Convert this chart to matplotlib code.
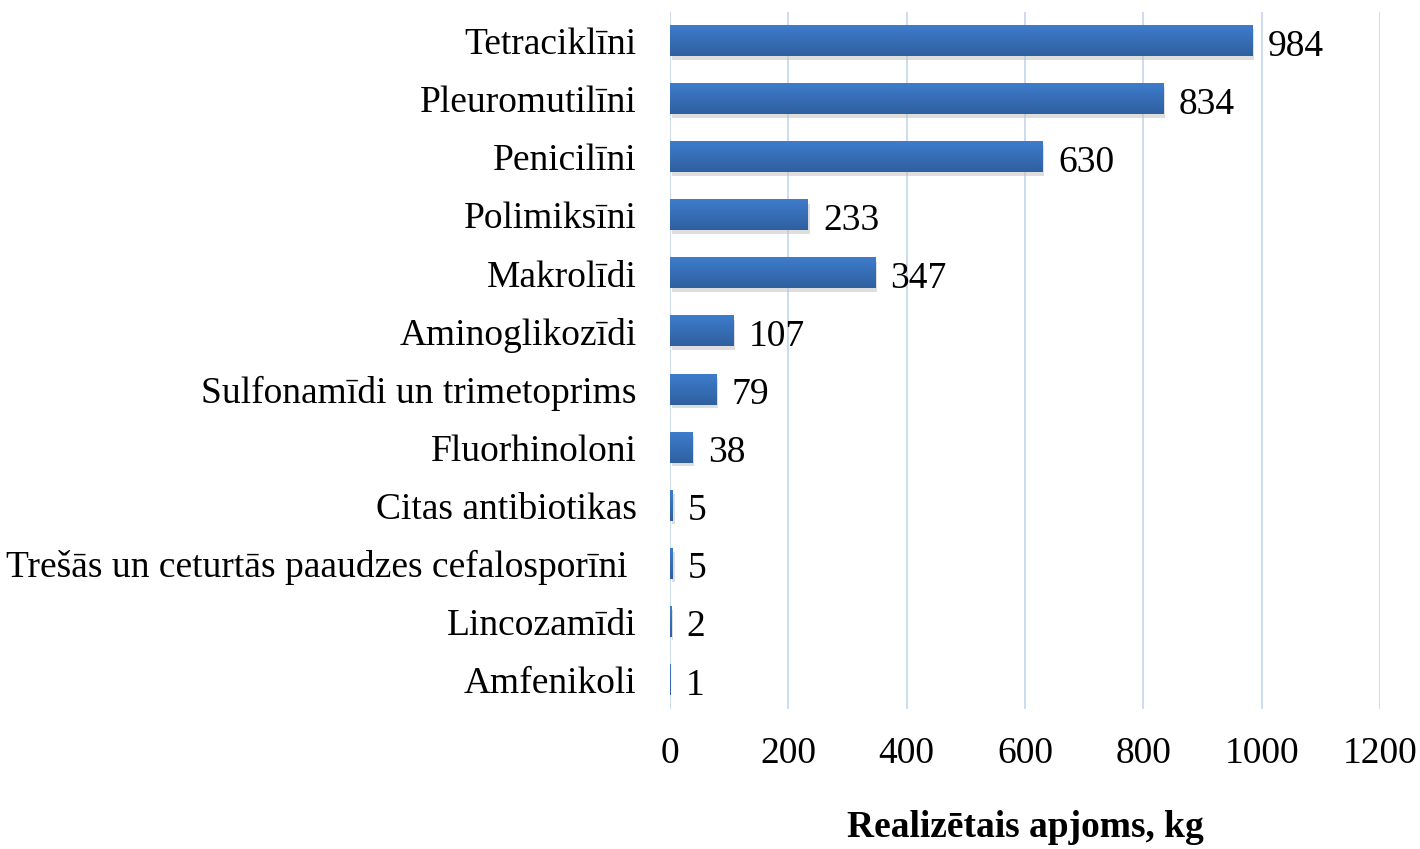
import numpy as np
import matplotlib.pyplot as plt

categories = ["Tetraciklīni", "Pleuromutilīni", "Penicilīni", "Polimiksīni",
              "Makrolīdi", "Aminoglikozīdi", "Sulfonamīdi un trimetoprims",
              "Fluorhinoloni", "Citas antibiotikas",
              "Trešās un ceturtās paaudzes cefalosporīni ",
              "Lincozamīdi", "Amfenikoli"]
values = [984, 834, 630, 233, 347, 107, 79, 38, 5, 5, 2, 1]
xticks = [0, 200, 400, 600, 800, 1000, 1200]

plt.rcParams['font.family'] = ['Liberation Serif', 'DejaVu Serif']

fig = plt.figure(figsize=(14.2, 8.49), dpi=100)
ax = fig.add_axes([0.4718, 0.165, 0.5, 0.821])

y = np.arange(len(categories))
bars = ax.barh(y, values, height=0.52, color="#3870bd", zorder=3)

# shading like the office chart: lighter top, darker bottom + soft shadow
grad = np.linspace(0, 1, 64).reshape(-1, 1)
cmap = plt.matplotlib.colors.LinearSegmentedColormap.from_list("b", ["#3e7dcc", "#2f5f9f"])
for b in bars:
    x0, y0 = b.get_x(), b.get_y()
    w, h = b.get_width(), b.get_height()
    ax.add_patch(plt.Rectangle((x0 + 3, y0 + 0.06), w, h, color="#bfbfbf", alpha=0.5, zorder=2, lw=0))
    ax.imshow(grad, cmap=cmap, aspect="auto", extent=(x0, x0 + w, y0 + h, y0), zorder=4)

for v, yy in zip(values, y):
    ax.annotate(str(v), (v, yy), xytext=(11, -1), textcoords="offset points",
                va="center_baseline", ha="left", fontsize=27)

ax.set_xlim(0, 1200)
ax.set_ylim(len(categories) - 0.5, -0.5)
ax.set_xticks(xticks)
ax.set_yticks(y)
ax.set_yticklabels(categories, fontsize=27)
ax.tick_params(axis="x", labelsize=27, length=0, pad=20)
ax.tick_params(axis="y", length=0, pad=24)
ax.grid(axis="x", color="#c9d9ee", lw=1.3, zorder=0)
for s in ax.spines.values():
    s.set_visible(False)
ax.set_xlabel("Realizētais apjoms, kg", fontsize=27, fontweight="bold", labelpad=28)

fig.savefig("out.png")
